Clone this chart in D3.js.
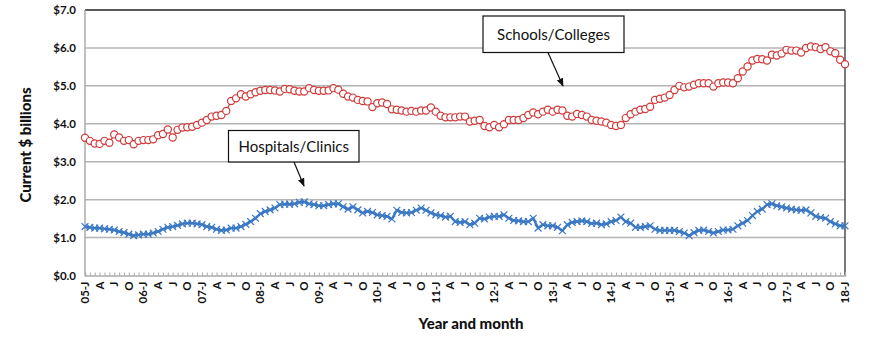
<!DOCTYPE html>
<html>
<head>
<meta charset="utf-8">
<script src="https://cdn.jsdelivr.net/npm/d3@7/dist/d3.min.js"></script>
<style>
  html, body { margin: 0; padding: 0; background: #fff; }
  svg { display: block; }
  text { font-family: Lato, "Open Sans", sans-serif; }
</style>
</head>
<body>
<svg id="chart" width="870" height="349"></svg>
<script>
// Monthly construction spending, Jan 2005 – Jan 2018 (current $ billions)
const startYear = 2005;
const monthLetters = ["J", "A", "J", "O"];   // quarter labels on the x axis

const schools = [
  3.63, 3.55, 3.48, 3.47, 3.55, 3.50, 3.72, 3.64, 3.55, 3.57, 3.46, 3.55, 3.57,
  3.57, 3.59, 3.70, 3.73, 3.85, 3.64, 3.84, 3.90, 3.91, 3.92, 3.97, 4.03, 4.10,
  4.19, 4.21, 4.23, 4.34, 4.60, 4.67, 4.78, 4.72, 4.78, 4.83, 4.87, 4.89, 4.89,
  4.88, 4.85, 4.92, 4.91, 4.87, 4.85, 4.85, 4.94, 4.89, 4.87, 4.87, 4.88, 4.94,
  4.90,
  4.79, 4.72, 4.69, 4.63, 4.60, 4.59, 4.44, 4.54, 4.56, 4.52, 4.38, 4.37, 4.35,
  4.32, 4.34, 4.32, 4.35, 4.35, 4.43, 4.32, 4.21, 4.17, 4.17, 4.17, 4.19, 4.19,
  4.06, 4.08, 4.10, 3.94, 3.91, 3.97, 3.91, 3.99, 4.10, 4.10, 4.10, 4.15, 4.23,
  4.30, 4.25, 4.32, 4.37, 4.32, 4.37, 4.35, 4.21, 4.19, 4.26, 4.23, 4.19, 4.10,
  4.08, 4.06, 4.03, 3.97, 3.94, 3.97, 4.15, 4.25, 4.32, 4.37, 4.39, 4.45, 4.63,
  4.66, 4.69, 4.76, 4.89, 5.00, 4.96, 4.98, 5.03, 5.07, 5.07, 5.07, 4.98, 5.07,
  5.09, 5.09, 5.07, 5.20, 5.38, 5.51, 5.67, 5.71, 5.70, 5.67, 5.82, 5.80, 5.85,
  5.95, 5.93, 5.93, 5.88, 6.00, 6.04, 6.02, 5.97, 6.02, 5.91, 5.86, 5.69, 5.57
];

const hospitals = [
  1.29, 1.27, 1.25, 1.25, 1.23, 1.22, 1.20, 1.16, 1.13, 1.09, 1.05, 1.07, 1.09,
  1.09, 1.12, 1.16, 1.22, 1.27, 1.29, 1.32, 1.36, 1.38, 1.38, 1.36, 1.34, 1.29,
  1.27, 1.22, 1.19, 1.20, 1.25, 1.25, 1.29, 1.35, 1.42, 1.51, 1.63, 1.69, 1.73,
  1.78, 1.87, 1.88, 1.88, 1.89, 1.93, 1.94, 1.89, 1.87, 1.84, 1.84, 1.87, 1.89,
  1.89,
  1.81, 1.75, 1.81, 1.73, 1.65, 1.69, 1.66, 1.60, 1.58, 1.56, 1.49, 1.72, 1.66,
  1.65, 1.66, 1.72, 1.78, 1.72, 1.65, 1.60, 1.58, 1.54, 1.56, 1.42, 1.40, 1.42,
  1.34, 1.38, 1.51, 1.49, 1.54, 1.56, 1.56, 1.60, 1.51, 1.45, 1.44, 1.42, 1.42,
  1.51, 1.25, 1.34, 1.31, 1.31, 1.27, 1.18, 1.34, 1.40, 1.42, 1.44, 1.42, 1.37,
  1.38, 1.34, 1.36, 1.42, 1.45, 1.54, 1.42, 1.38, 1.27, 1.27, 1.29, 1.31, 1.22,
  1.19, 1.19, 1.19, 1.19, 1.16, 1.12, 1.05, 1.13, 1.19, 1.20, 1.16, 1.12, 1.16,
  1.20, 1.20, 1.22, 1.31, 1.38, 1.45, 1.58, 1.69, 1.75, 1.87, 1.89, 1.84, 1.81,
  1.78, 1.75, 1.73, 1.72, 1.73, 1.65, 1.56, 1.53, 1.51, 1.42, 1.36, 1.31, 1.31
];

const yTicks = [0, 1, 2, 3, 4, 5, 6, 7];

const svg = d3.select("#chart");
const plot = { left: 85, right: 845, top: 10, bottom: 275.5 };

const nMonths = schools.length - 1;
const x = d3.scaleLinear().domain([0, nMonths]).range([plot.left, plot.right]);
const y = d3.scaleLinear().domain([0, 7]).range([plot.bottom, plot.top]);

// horizontal gridlines
svg.append("g")
  .selectAll("line")
  .data(yTicks.filter(v => v > 0 && v < 7))
  .join("line")
  .attr("x1", plot.left).attr("x2", plot.right)
  .attr("y1", d => y(d)).attr("y2", d => y(d))
  .attr("stroke", "#b4b4b4").attr("stroke-width", 1.5);

// frame: top and right in black, left and bottom in grey
svg.append("line").attr("x1", plot.left).attr("x2", plot.right)
  .attr("y1", plot.top).attr("y2", plot.top).attr("stroke", "#222").attr("stroke-width", 1.3);
svg.append("line").attr("x1", plot.right).attr("x2", plot.right)
  .attr("y1", plot.top).attr("y2", plot.bottom).attr("stroke", "#333").attr("stroke-width", 1.3);
svg.append("line").attr("x1", plot.left).attr("x2", plot.left)
  .attr("y1", plot.top).attr("y2", plot.bottom).attr("stroke", "#aaa").attr("stroke-width", 1.5);

// y axis labels
const yAxis = d3.axisLeft(y).tickValues(yTicks).tickSize(0).tickPadding(9)
  .tickFormat(d => "$" + d3.format(".1f")(d));
svg.append("g").attr("transform", `translate(${plot.left},0)`).call(yAxis)
  .call(g => g.select(".domain").remove())
  .call(g => g.selectAll("text").attr("font-size", 11.5).attr("font-weight", 700).attr("fill", "#111"));

// x axis: monthly minor ticks pointing inward, quarterly labels
const monthIdx = d3.range(0, nMonths + 1);
const quarterIdx = monthIdx.filter(i => i % 3 === 0);
const quarterLabel = i => {
  const q = (i / 3) % 4;
  if (q === 0) {
    const yr = (startYear + i / 12) % 100;
    return String(yr).padStart(2, "0") + "-J";
  }
  return monthLetters[q];
};

const xAxis = d3.axisBottom(x).tickValues(monthIdx).tickSize(-3).tickFormat("");
svg.append("g").attr("transform", `translate(0,${plot.bottom})`).call(xAxis)
  .call(g => g.select(".domain").attr("stroke", "#aaa").attr("stroke-width", 1.5))
  .call(g => g.selectAll(".tick line").attr("stroke", "#aaa").attr("stroke-width", 1));

svg.append("g")
  .selectAll("text")
  .data(quarterIdx)
  .join("text")
  .attr("transform", d => `translate(${x(d) + 4},${plot.bottom + 6}) rotate(-90)`)
  .attr("text-anchor", "end")
  .attr("font-size", 11.5).attr("font-weight", 700).attr("fill", "#111")
  .text(quarterLabel);

// axis titles
svg.append("text")
  .attr("x", 471).attr("y", 329)
  .attr("text-anchor", "middle")
  .attr("font-size", 15).attr("font-weight", 900).attr("fill", "#111")
  .text("Year and month");
svg.append("text")
  .attr("transform", "translate(31,145) rotate(-90)")
  .attr("text-anchor", "middle")
  .attr("font-size", 15).attr("font-weight", 900).attr("fill", "#111")
  .text("Current $ billions");

// Schools/Colleges series: red line with open circles
const red = "#cf3a3a";
const line = d3.line().x((d, i) => x(i)).y(d => y(d));
svg.append("path").datum(schools)
  .attr("d", line).attr("fill", "none").attr("stroke", red).attr("stroke-width", 1.2);
svg.append("g").selectAll("circle").data(schools).join("circle")
  .attr("cx", (d, i) => x(i)).attr("cy", d => y(d)).attr("r", 3.6)
  .attr("fill", "#fff").attr("stroke", red).attr("stroke-width", 1.2);

// Hospitals/Clinics series: blue line with x markers
const blue = "#3b78c4";
svg.append("path").datum(hospitals)
  .attr("d", line).attr("fill", "none").attr("stroke", blue).attr("stroke-width", 2.4);
const xMark = d3.symbol(d3.symbolTimes, 32);
svg.append("g").selectAll("path").data(hospitals).join("path")
  .attr("transform", (d, i) => `translate(${x(i)},${y(d)})`)
  .attr("d", xMark).attr("fill", "none").attr("stroke", blue).attr("stroke-width", 1.2);

// arrowhead
svg.append("defs").append("marker")
  .attr("id", "arrow").attr("viewBox", "0 0 10 10")
  .attr("refX", 9).attr("refY", 5)
  .attr("markerWidth", 7).attr("markerHeight", 7)
  .attr("orient", "auto")
  .append("path").attr("d", "M0,1 L10,5 L0,9 Z").attr("fill", "#111");

// callout boxes
function callout(bx, by, bw, bh, label, ax1, ay1, ax2, ay2) {
  svg.append("line").attr("x1", ax1).attr("y1", ay1).attr("x2", ax2).attr("y2", ay2)
    .attr("stroke", "#111").attr("stroke-width", 1.2).attr("marker-end", "url(#arrow)");
  svg.append("rect").attr("x", bx).attr("y", by).attr("width", bw).attr("height", bh)
    .attr("fill", "#fff").attr("stroke", "#111").attr("stroke-width", 1.2);
  svg.append("text").attr("x", bx + bw / 2).attr("y", by + bh / 2 + 5.5)
    .attr("text-anchor", "middle").attr("font-size", 15).attr("fill", "#111")
    .text(label);
}
callout(483, 16, 141, 36.5, "Schools/Colleges", 548, 52.5, 563, 86);
callout(228.5, 130.5, 130.5, 31.5, "Hospitals/Clinics", 294, 162, 304, 186);
</script>
</body>
</html>
